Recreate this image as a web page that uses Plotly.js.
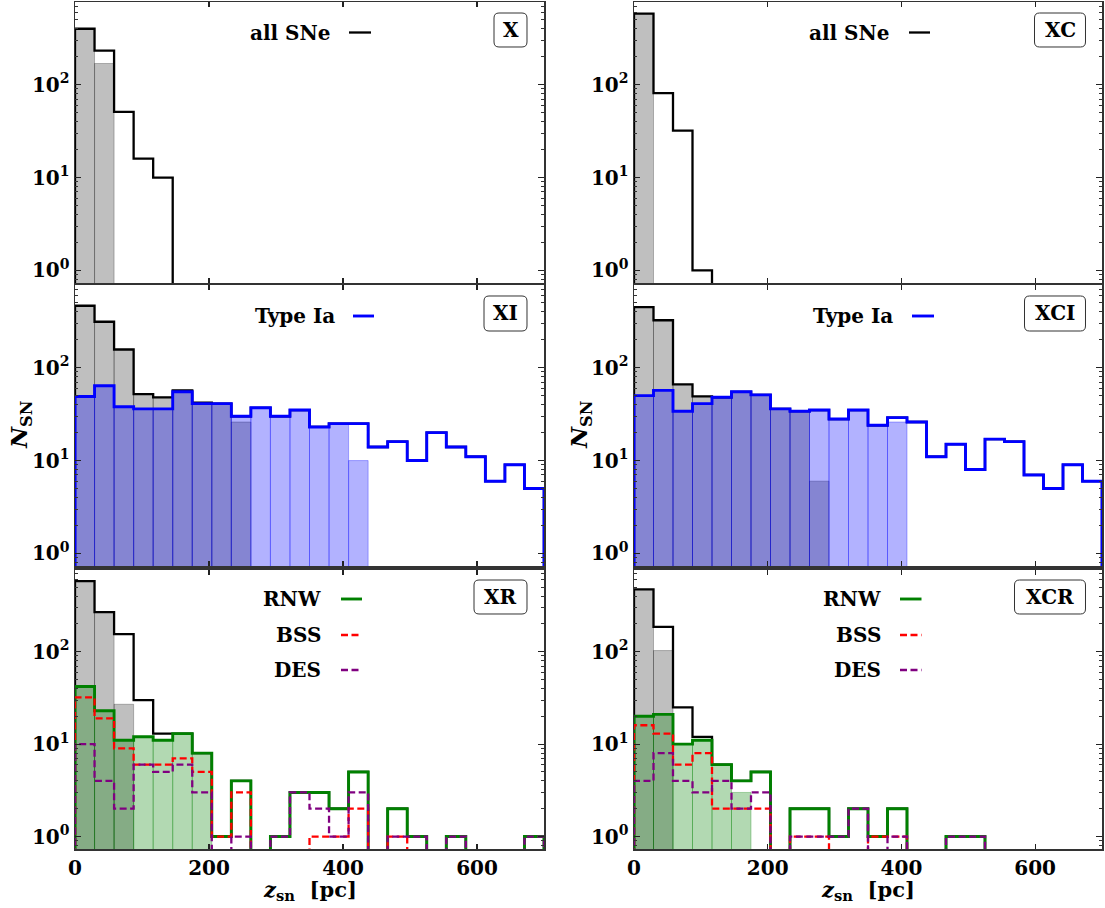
<!DOCTYPE html>
<html>
<head>
<meta charset="utf-8">
<script src="https://cdn.plot.ly/plotly-3.0.1.min.js"></script>
<style>
  html, body { margin: 0; padding: 0; background: #fff; }
  #chart { width: 1105px; height: 908px; }
</style>
</head>
<body>
<div id="chart"></div>
<script>
// Histogram binning of the SN height above the mid-plane
const Z_MAX = 700;
const N_BINS = 24;
const BIN_W = Z_MAX / N_BINS;
const binEdges = Array.from({length: N_BINS + 1}, (_, i) => i * BIN_W);

// Panel X: all SNe (full sample, step) and inner subsample (filled)
const xAll    = [400, 233, 51, 16, 10];
const xAllSub = [400, 169];

// Panel XC
const xcAll    = [582, 81, 32, 1];
const xcAllSub = [582];

// Panel XI: all SNe and Type Ia
const xiAll    = [464, 312, 157, 52, 48, 57, 42, 41, 30, 37, 30, 35, 23, 25, 25, 14, 16, 10, 20, 14, 11, 6, 9, 5];
const xiAllSub = [464, 312, 157, 52, 48, 57, 42, 41, 26];
const xiIa     = [49, 64, 38, 36, 36, 55, 41, 41, 30, 37, 30, 35, 23, 25, 25, 14, 16, 10, 20, 14, 11, 6, 9, 5];
const xiIaSub  = [49, 64, 38, 36, 36, 55, 41, 41, 30, 37, 30, 35, 23, 25, 10];

// Panel XCI
const xciAll    = [449, 324, 66, 49, 48, 55, 51, 36, 34, 35, 28, 35, 24, 29, 26, 11, 15, 8, 17, 16, 7, 5, 9, 6];
const xciAllSub = [449, 324, 66, 49, 48, 55, 51, 36, 34, 6];
const xciIa     = [50, 57, 34, 41, 48, 55, 51, 36, 34, 35, 28, 35, 24, 29, 26, 11, 15, 8, 17, 16, 7, 5, 9, 6];
const xciIaSub  = [50, 57, 34, 41, 48, 55, 51, 36, 34, 35, 28, 35, 24, 26];

// Panel XR: all SNe and runaway progenitors (RNW = BSS + DES)
const xrAll    = [581, 268, 155, 30, 13, 13, 8, 1, 4, 0, 1, 3, 3, 2, 5, 0, 2, 1, 0, 1, 0, 0, 0, 1];
const xrAllSub = [581, 268, 27];
const xrRnw    = [42, 23, 11, 12, 11, 13, 8, 1, 4, 0, 1, 3, 3, 2, 5, 0, 2, 1, 0, 1, 0, 0, 0, 1];
const xrRnwSub = [42, 23, 11, 12, 11, 13, 8];
const xrBss    = [32, 19, 9, 6, 6, 7, 5, 1, 3, 0, 0, 0, 1, 1, 2, 0, 1, 0, 0, 0, 0, 0, 0, 0];
const xrDes    = [10, 4, 2, 6, 5, 6, 3, 0, 1, 0, 1, 3, 2, 1, 3, 0, 1, 1, 0, 1, 0, 0, 0, 1];

// Panel XCR
const xcrAll    = [472, 186, 25, 12, 6, 4, 5, 0, 2, 2, 1, 2, 1, 2, 0, 0, 1, 1];
const xcrAllSub = [472, 103];
const xcrRnw    = [20, 21, 10, 11, 6, 4, 5, 0, 2, 2, 1, 2, 1, 2, 0, 0, 1, 1];
const xcrRnwSub = [20, 21, 10, 11, 6, 3];
const xcrBss    = [16, 13, 6, 8, 2, 2, 2, 0, 1, 1, 0, 0, 1, 1, 0, 0, 0, 0];
const xcrDes    = [4, 8, 4, 3, 4, 2, 3, 0, 1, 1, 1, 2, 0, 1, 0, 0, 1, 1];

const panelNames = ['X', 'XC', 'XI', 'XCI', 'XR', 'XCR'];
const yTickVals  = [1, 10, 100];
const yTickText  = ['10<sup>0</sup>', '10<sup>1</sup>', '10<sup>2</sup>'];
const xTickVals  = [0, 200, 400, 600];

// ---------- styling ----------
const W = 1105, H = 908;
const FONT = 'DejaVu Serif, Liberation Serif, serif';
const C = {
  black: '#000000', grayFill: 'rgba(0,0,0,0.25)',
  blue: '#0000ff', blueFill: 'rgba(0,0,255,0.3)',
  green: '#008000', greenFill: 'rgba(0,128,0,0.3)',
  red: '#ff0000', purple: '#800080'
};
const DASH = '7px,3.5px';

const px = x => x / W;
const py = y => 1 - y / H;

// subplot frames in pixels
const colX = [[75, 544], [634, 1102]];
const rowY = [[2, 283], [285, 566], [569.5, 849]];

const ax = k => (k === 1 ? '' : String(k));

function stepTrace(counts, k, color, width, dash) {
  const floor = 0.1; // below the visible log range: empty bins drop out of view
  const xs = [binEdges[0]], ys = [floor];
  counts.forEach((c, i) => { xs.push(binEdges[i]); ys.push(c > 0 ? c : floor); });
  xs.push(binEdges[counts.length]); ys.push(floor);
  return {
    type: 'scatter', mode: 'lines', x: xs, y: ys,
    line: {color: color, width: width, dash: dash || 'solid', shape: 'hv'},
    xaxis: 'x' + ax(k), yaxis: 'y' + ax(k), hoverinfo: 'skip'
  };
}

function fillTrace(counts, k, color) {
  return {
    type: 'bar',
    x: counts.map((_, i) => binEdges[i] + BIN_W / 2),
    y: counts,
    width: counts.map(() => BIN_W),
    marker: {color: color, line: {color: color, width: 1}},
    xaxis: 'x' + ax(k), yaxis: 'y' + ax(k), hoverinfo: 'skip'
  };
}

const LW_K = 2.3, LW_C = 2.9, LW_D = 2.3;
const traces = [
  // X
  fillTrace(xAllSub, 1, C.grayFill),
  stepTrace(xAll, 1, C.black, LW_K),
  // XC
  fillTrace(xcAllSub, 2, C.grayFill),
  stepTrace(xcAll, 2, C.black, LW_K),
  // XI
  fillTrace(xiAllSub, 3, C.grayFill),
  fillTrace(xiIaSub, 3, C.blueFill),
  stepTrace(xiAll, 3, C.black, LW_K),
  stepTrace(xiIa, 3, C.blue, LW_C),
  // XCI
  fillTrace(xciAllSub, 4, C.grayFill),
  fillTrace(xciIaSub, 4, C.blueFill),
  stepTrace(xciAll, 4, C.black, LW_K),
  stepTrace(xciIa, 4, C.blue, LW_C),
  // XR
  fillTrace(xrAllSub, 5, C.grayFill),
  fillTrace(xrRnwSub, 5, C.greenFill),
  stepTrace(xrAll, 5, C.black, LW_K),
  stepTrace(xrRnw, 5, C.green, LW_C),
  stepTrace(xrBss, 5, C.red, LW_D, DASH),
  stepTrace(xrDes, 5, C.purple, LW_D, DASH),
  // XCR
  fillTrace(xcrAllSub, 6, C.grayFill),
  fillTrace(xcrRnwSub, 6, C.greenFill),
  stepTrace(xcrAll, 6, C.black, LW_K),
  stepTrace(xcrRnw, 6, C.green, LW_C),
  stepTrace(xcrBss, 6, C.red, LW_D, DASH),
  stepTrace(xcrDes, 6, C.purple, LW_D, DASH)
];

const minorY = [0.8, 0.9, 2, 3, 4, 5, 6, 7, 8, 9, 20, 30, 40, 50, 60, 70, 80, 90, 200, 300, 400, 500, 600, 700];

const layout = {
  width: W, height: H, autosize: false,
  margin: {l: 0, r: 0, t: 0, b: 0, pad: 0},
  paper_bgcolor: '#ffffff', plot_bgcolor: '#ffffff',
  showlegend: false, barmode: 'overlay', bargap: 0,
  font: {family: FONT, size: 20, color: '#000'},
  annotations: [], shapes: []
};

for (let k = 1; k <= 6; k++) {
  const col = (k - 1) % 2, row = Math.floor((k - 1) / 2);
  layout['xaxis' + ax(k)] = {
    domain: [px(colX[col][0]), px(colX[col][1])],
    range: [0, Z_MAX], anchor: 'y' + ax(k),
    tickmode: 'array', tickvals: xTickVals,
    ticks: 'inside', ticklen: 5, tickwidth: 1.2, tickcolor: '#222',
    showline: true, linecolor: '#333', linewidth: 1.5, mirror: 'ticks',
    showgrid: false, zeroline: false,
    showticklabels: row === 2,
    tickfont: {family: FONT, size: 20, color: '#000', weight: 'bold'}
  };
  layout['yaxis' + ax(k)] = {
    type: 'log', domain: [py(rowY[row][1]), py(rowY[row][0])],
    range: [-0.135, 2.89], anchor: 'x' + ax(k),
    tickmode: 'array', tickvals: yTickVals, ticktext: yTickText,
    ticks: 'inside', ticklen: 6, tickwidth: 1.2, tickcolor: '#222',
    minor: {tickmode: 'array', tickvals: minorY, ticks: 'inside', ticklen: 3, tickwidth: 1, tickcolor: '#333', showgrid: false},
    showline: true, linecolor: '#333', linewidth: 1.5, mirror: 'ticks',
    showgrid: false, zeroline: false,
    tickfont: {family: FONT, size: 20, color: '#000', weight: 'bold'}
  };
}

// legend entries: text to the left of a short line sample
function legendEntry(label, textRight, sampleX0, sampleX1, y, color, dash, width) {
  layout.annotations.push({
    xref: 'paper', yref: 'paper', x: px(textRight), y: py(y),
    xanchor: 'right', yanchor: 'middle', showarrow: false,
    text: '<b>' + label + '</b>',
    font: {family: FONT, size: 20, color: '#000'}
  });
  layout.shapes.push({
    type: 'line', xref: 'paper', yref: 'paper',
    x0: px(sampleX0), x1: px(sampleX1), y0: py(y), y1: py(y),
    line: {color: color, width: width, dash: dash || 'solid'}
  });
}
legendEntry('all SNe', 333, 349, 371, 32.5, C.black, null, LW_K);
legendEntry('all SNe', 892, 909, 930, 32.5, C.black, null, LW_K);
legendEntry('Type Ia', 337, 353, 374, 316, C.blue, null, LW_C);
legendEntry('Type Ia', 895, 912, 934, 316, C.blue, null, LW_C);
[['RNW', C.green, null, 599, LW_C], ['BSS', C.red, DASH, 635, LW_D], ['DES', C.purple, DASH, 670, LW_D]].forEach(([lab, col, dash, y, w]) => {
  legendEntry(lab, 323, 341, 362, y, col, dash, w);
  legendEntry(lab, 883, 900, 921.5, y, col, dash, w);
});

// panel tags in rounded boxes
function roundBox(x0, y0, x1, y1, r) {
  const X = v => px(v).toFixed(5), Y = v => py(v).toFixed(5);
  return 'M ' + X(x0 + r) + ',' + Y(y0) +
    ' L ' + X(x1 - r) + ',' + Y(y0) + ' Q ' + X(x1) + ',' + Y(y0) + ' ' + X(x1) + ',' + Y(y0 + r) +
    ' L ' + X(x1) + ',' + Y(y1 - r) + ' Q ' + X(x1) + ',' + Y(y1) + ' ' + X(x1 - r) + ',' + Y(y1) +
    ' L ' + X(x0 + r) + ',' + Y(y1) + ' Q ' + X(x0) + ',' + Y(y1) + ' ' + X(x0) + ',' + Y(y1 - r) +
    ' L ' + X(x0) + ',' + Y(y0 + r) + ' Q ' + X(x0) + ',' + Y(y0) + ' ' + X(x0 + r) + ',' + Y(y0) + ' Z';
}
const tagBoxes = [
  [494, 13, 527, 47], [1034.5, 13, 1085.5, 47],
  [484, 296, 527, 331], [1024.5, 296, 1085.5, 331],
  [474, 580, 527, 614], [1014.5, 580, 1085.5, 614]
];
panelNames.forEach((name, i) => {
  const [x0, y0, x1, y1] = tagBoxes[i];
  layout.shapes.push({
    type: 'path', xref: 'paper', yref: 'paper', path: roundBox(x0, y0, x1, y1, 5),
    line: {color: '#333', width: 1}, fillcolor: 'rgba(255,255,255,0.9)'
  });
  layout.annotations.push({
    xref: 'paper', yref: 'paper', x: px((x0 + x1) / 2), y: py((y0 + y1) / 2),
    xanchor: 'center', yanchor: 'middle', showarrow: false,
    text: '<b>' + name + '</b>', font: {family: FONT, size: 20, color: '#000'}
  });
});

// axis titles
const yTitle = '<b><i>N</i></b><sub><b>SN</b></sub>';
const xTitle = '<b><i>z</i></b><sub><b>sn</b></sub><b>  [pc]</b>';
[[20, 425], [580, 425]].forEach(([x, y]) => layout.annotations.push({
  xref: 'paper', yref: 'paper', x: px(x), y: py(y), textangle: -90,
  xanchor: 'center', yanchor: 'middle', showarrow: false,
  text: yTitle, font: {family: FONT, size: 23, color: '#000'}
}));
[[309.5, 890], [868, 890]].forEach(([x, y]) => layout.annotations.push({
  xref: 'paper', yref: 'paper', x: px(x), y: py(y),
  xanchor: 'center', yanchor: 'middle', showarrow: false,
  text: xTitle, font: {family: FONT, size: 21, color: '#000'}
}));

Plotly.newPlot('chart', traces, layout, {staticPlot: true, displayModeBar: false});
</script>
</body>
</html>
